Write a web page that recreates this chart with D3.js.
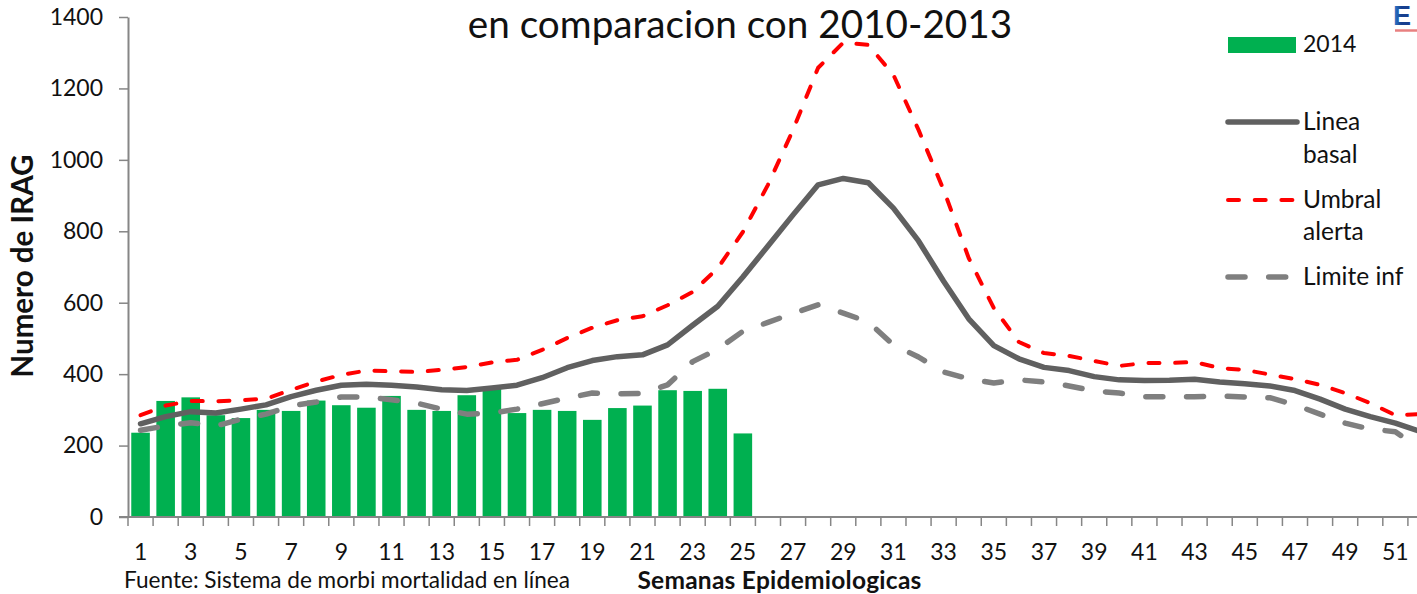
<!DOCTYPE html>
<html>
<head>
<meta charset="utf-8">
<script src="https://cdn.jsdelivr.net/npm/d3@7"></script>
<style>
  html, body { margin: 0; padding: 0; background: #fff; overflow: hidden; }
  text { font-family: Lato, "Open Sans", sans-serif; fill: #111; }
</style>
</head>
<body>
<div id="chart"></div>
<script>
// weeks 1-52
const weeks = d3.range(1, 53);

// tick labels are only shown on odd weeks
const weekLabels = weeks.filter(d => d % 2 === 1);
const yTicks = [0, 200, 400, 600, 800, 1000, 1200, 1400];

// series values
const cases2014 = [236, 325, 335, 285, 277, 300, 297, 326, 313, 306, 339, 300, 297, 341, 360, 291, 300, 297, 272, 305, 312, 355, 353, 359, 234];
const lineaBasal = [261, 281, 295, 291, 302, 314, 337, 355, 369, 372, 369, 364, 356, 354, 361, 369, 390, 418, 438, 449, 454, 482, 537, 590, 672, 759, 846, 930, 948, 936, 865, 773, 660, 555, 480, 443, 419, 410, 393, 384, 382, 383, 386, 378, 373, 367, 354, 330, 302, 281, 263, 239];
const umbralAlerta = [285, 312, 325, 324, 327, 331, 356, 379, 398, 410, 408, 406, 412, 420, 433, 440, 468, 501, 530, 551, 562, 593, 630, 697, 798, 930, 1084, 1258, 1328, 1322, 1238, 1084, 916, 725, 585, 490, 459, 451, 437, 423, 431, 431, 434, 417, 412, 399, 386, 370, 347, 319, 285, 288];
const limiteInf = [243, 255, 264, 255, 274, 288, 311, 322, 336, 336, 328, 319, 302, 288, 291, 302, 317, 333, 347, 345, 346, 370, 435, 470, 520, 545, 570, 594, 571, 546, 482, 448, 406, 387, 375, 384, 378, 367, 353, 347, 337, 337, 337, 339, 336, 334, 314, 288, 263, 246, 239, 190];

const width = 1417;
const height = 594;
const margin = {left: 128, right: -16, top: 17, bottom: 77};

const svg = d3.select("#chart")
  .append("svg")
  .attr("width", width)
  .attr("height", height)
  .attr("viewBox", [0, 0, width, height])
  .style("display", "block");

const xScale = d3.scaleBand()
  .domain(weeks)
  .range([margin.left, width - margin.right])
  .paddingInner(0.26)
  .paddingOuter(0.13);

const yScale = d3.scaleLinear()
  .domain([0, 1400])
  .range([height - margin.bottom, margin.top]);

svg.append("text")
  .attr("x", 740)
  .attr("y", 38)
  .attr("text-anchor", "middle")
  .style("font-size", "38.7px")
  .text("en comparacion con 2010-2013");

// bars
svg.append("g")
  .selectAll("rect")
  .data(cases2014)
  .join("rect")
  .attr("x", (d, i) => xScale(weeks[i]))
  .attr("y", d => yScale(d))
  .attr("width", xScale.bandwidth())
  .attr("height", d => yScale(0) - yScale(d))
  .attr("fill", "#00b050");

// lines
const line = d3.line()
  .x((d, i) => xScale(weeks[i]) + xScale.bandwidth() / 2)
  .y(d => yScale(d));

const lineStyles = [
  {values: lineaBasal, color: "#606060", w: 5.5, dash: null},
  {values: umbralAlerta, color: "#ff0000", w: 4, dash: "11 15.7"},
  {values: limiteInf, color: "#7f7f7f", w: 5.5, dash: "17 23.7"}
];

svg.append("g")
  .selectAll("path")
  .data(lineStyles)
  .join("path")
  .attr("d", d => line(d.values))
  .attr("fill", "none")
  .attr("stroke", d => d.color)
  .attr("stroke-width", d => d.w)
  .attr("stroke-dasharray", d => d.dash)
  .attr("stroke-linecap", "round")
  .attr("stroke-linejoin", "round");

// x axis, ticks sit between the bands
const xAxis = svg.append("g")
  .attr("transform", `translate(0, ${yScale(0)})`);

xAxis.append("line")
  .attr("x1", margin.left - 9)
  .attr("x2", width)
  .attr("stroke", "#868686")
  .attr("stroke-width", 2);

xAxis.selectAll(".tick-mark")
  .data(weeks)
  .join("line")
  .attr("class", "tick-mark")
  .attr("x1", d => xScale(d) - xScale.step() * 0.13)
  .attr("x2", d => xScale(d) - xScale.step() * 0.13)
  .attr("y1", 0)
  .attr("y2", 9)
  .attr("stroke", "#868686")
  .attr("stroke-width", 1.5);

xAxis.selectAll(".week-label")
  .data(weekLabels)
  .join("text")
  .attr("class", "week-label")
  .attr("x", d => xScale(d) + xScale.bandwidth() / 2)
  .attr("y", 43)
  .attr("text-anchor", "middle")
  .style("font-size", "23px")
  .text(d => d);

// y axis
const yAxis = d3.axisLeft(yScale)
  .tickValues(yTicks)
  .tickFormat(d3.format("d"))
  .tickSize(9)
  .tickSizeOuter(0)
  .tickPadding(16);

const yAxisGroup = svg.append("g")
  .attr("transform", `translate(${margin.left}, 0)`)
  .call(yAxis);

yAxisGroup.select(".domain")
  .attr("stroke", "#868686")
  .attr("stroke-width", 2);
yAxisGroup.selectAll(".tick line")
  .attr("stroke", "#868686")
  .attr("stroke-width", 1.5);
yAxisGroup.selectAll(".tick text")
  .style("font-size", "23px");

svg.append("text")
  .attr("transform", "translate(33, 266) rotate(-90)")
  .attr("text-anchor", "middle")
  .style("font-size", "29.5px")
  .style("font-weight", 700)
  .text("Numero de IRAG");

svg.append("text")
  .attr("x", 779.5)
  .attr("y", 589)
  .attr("text-anchor", "middle")
  .style("font-size", "24.5px")
  .style("letter-spacing", "0.25px")
  .style("font-weight", 700)
  .text("Semanas Epidemiologicas");

svg.append("text")
  .attr("x", 124)
  .attr("y", 588)
  .style("font-size", "22.6px")
  .text("Fuente: Sistema de morbi mortalidad en línea");

// legend
const legend = svg.append("g");

legend.append("rect")
  .attr("x", 1228)
  .attr("y", 37)
  .attr("width", 68)
  .attr("height", 16)
  .attr("fill", "#00b050");

const legendLines = [
  {y: 122, style: lineStyles[0], x2: 1297},
  {y: 200, style: lineStyles[1], x2: 1295},
  {y: 277, style: lineStyles[2], x2: 1288}
];

legend.selectAll("line")
  .data(legendLines)
  .join("line")
  .attr("x1", 1228)
  .attr("x2", d => d.x2)
  .attr("y1", d => d.y)
  .attr("y2", d => d.y)
  .attr("stroke", d => d.style.color)
  .attr("stroke-width", d => d.style.w)
  .attr("stroke-dasharray", d => d.style.dash)
  .attr("stroke-linecap", "round");

const legendLabels = [
  {t: "2014", y: 52, size: 23},
  {t: "Linea", y: 130, size: 24.5},
  {t: "basal", y: 163, size: 24.5},
  {t: "Umbral", y: 208, size: 24.5},
  {t: "alerta", y: 240, size: 24.5},
  {t: "Limite inf", y: 285, size: 24.5}
];

legend.selectAll("text")
  .data(legendLabels)
  .join("text")
  .attr("x", 1303)
  .attr("y", d => d.y)
  .style("font-size", d => d.size + "px")
  .text(d => d.t);

// piece of the logo at the top right corner
const logoGradient = svg.append("defs")
  .append("linearGradient")
  .attr("id", "logo-blue");
logoGradient.append("stop").attr("offset", "0%").attr("stop-color", "#2f86d6");
logoGradient.append("stop").attr("offset", "45%").attr("stop-color", "#173f8f");
logoGradient.append("stop").attr("offset", "100%").attr("stop-color", "#173f8f");

svg.append("text")
  .attr("x", 1393)
  .attr("y", 24.5)
  .style("font-family", "'Liberation Sans'")
  .style("font-size", "27px")
  .style("font-weight", 700)
  .style("fill", "url(#logo-blue)")
  .text("E");

svg.append("line")
  .attr("x1", 1395)
  .attr("x2", width)
  .attr("y1", 30.5)
  .attr("y2", 30.5)
  .attr("stroke", "#e88080")
  .attr("stroke-width", 2.5);
</script>
</body>
</html>
